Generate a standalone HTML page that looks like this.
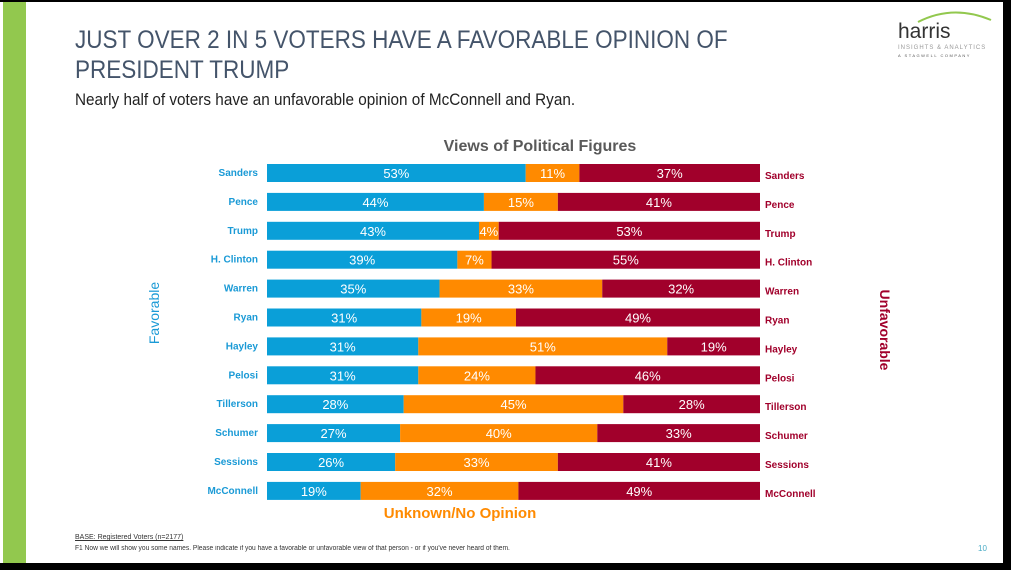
<!DOCTYPE html>
<html><head><meta charset="utf-8">
<style>
body{margin:0;width:1011px;height:570px;background:#000;overflow:hidden;font-family:"Liberation Sans",sans-serif;}
#slide{position:absolute;left:0;top:2px;width:1003px;height:561px;background:#fff;}
#green{position:absolute;left:3px;top:2px;width:23px;height:561px;background:#92c84e;}
.t{position:absolute;white-space:nowrap;}
</style></head><body>
<div id="slide"></div>
<div id="green"></div>
<div class="t" style="left:75px;top:25px;font-size:25px;line-height:30px;color:#44546a;transform:scaleX(0.9);transform-origin:left;">JUST OVER 2 IN 5 VOTERS HAVE A FAVORABLE OPINION OF<br>PRESIDENT TRUMP</div>
<div class="t" style="left:75px;top:90px;font-size:17px;color:#222;transform:scaleX(0.9);transform-origin:left;">Nearly half of voters have an unfavorable opinion of McConnell and Ryan.</div>
<div class="t" style="left:898px;top:18px;width:95px;">
<svg width="95" height="40" style="position:absolute;left:0;top:-10px"><path d="M20 14 Q55 -4 93 12" stroke="#92c84e" stroke-width="2" fill="none"/></svg>
<div style="position:absolute;left:0;top:2px;font-size:21px;color:#333;">harris</div>
<div style="position:absolute;left:0;top:27px;font-size:6px;color:#999;letter-spacing:1px;">INSIGHTS &amp; ANALYTICS</div>
<div style="position:absolute;left:0;top:35px;font-size:4px;color:#555;letter-spacing:1.5px;">A STAGWELL COMPANY</div>
</div>
<svg id="chart" width="1011" height="570" style="position:absolute;left:0;top:0"></svg>
<div class="t" style="left:75px;top:534px;font-size:7px;color:#333;text-decoration:underline;">BASE: Registered Voters (n=2177)</div>
<div class="t" style="left:75px;top:545px;font-size:7px;color:#333;transform:scaleX(0.95);transform-origin:left;">F1 Now we will show you some names. Please indicate if you have a favorable or unfavorable view of that person - or if you've never heard of them.</div>
<div class="t" style="left:978px;top:544px;font-size:8px;color:#4bacc6;">10</div>
<script>
const names=["Sanders","Pence","Trump","H. Clinton","Warren","Ryan","Hayley","Pelosi","Tillerson","Schumer","Sessions","McConnell"];
const favorable=[53,44,43,39,35,31,31,31,28,27,26,19];
const unknown=[11,15,4,7,33,19,51,24,45,40,33,32];
const unfavorable=[37,41,53,55,32,49,19,46,28,33,41,49];
const svg=document.getElementById('chart');
const NS='http://www.w3.org/2000/svg';
const x0=267,W=493,y0=164,step=28.9,bh=18;
const cols=["#0a9fd8","#ff8a00","#a1002b"];
function mk(tag,attrs){const e=document.createElementNS(NS,tag);for(const k in attrs)e.setAttribute(k,attrs[k]);svg.appendChild(e);return e;}
function txt(x,y,s,attrs){const e=mk('text',Object.assign({x:x,y:y},attrs));e.textContent=s;return e;}
const t1=txt(540,151,"Views of Political Figures",{"text-anchor":"middle","font-size":"16","font-weight":"bold",fill:"#595959"});

names.forEach((n,i)=>{
  const vals=[favorable[i],unknown[i],unfavorable[i]];
  const tot=vals[0]+vals[1]+vals[2];
  const y=y0+i*step;let x=x0;
  vals.forEach((v,j)=>{
    const w=v/tot*W;
    const r=mk('rect',{x:x,y:y,width:w,height:bh,fill:cols[j]});
    
    
    const l=txt(x+w/2,y+14,v+"%",{"text-anchor":"middle","font-size":"13",fill:"#fff"});
    
    
    x+=w;
  });
  const a=txt(258,y+12,n,{"text-anchor":"end","font-size":"10","font-weight":"bold",fill:"#1a9ad6"});
  
  
  const b=txt(765,y+15,n,{"font-size":"10","font-weight":"bold",fill:"#a1002b"});
  
  
});
const f=txt(0,0,"Favorable",{"text-anchor":"middle","font-size":"14",fill:"#1a9ad6",transform:"translate(159,313) rotate(-90)"});

const u=txt(0,0,"Unfavorable",{"text-anchor":"middle","font-size":"14","font-weight":"bold",fill:"#a1002b",transform:"translate(880,330) rotate(90)"});

const k=txt(460,518,"Unknown/No Opinion",{"text-anchor":"middle","font-size":"15","font-weight":"bold",fill:"#ff8a00"});

</script>
</body></html>
